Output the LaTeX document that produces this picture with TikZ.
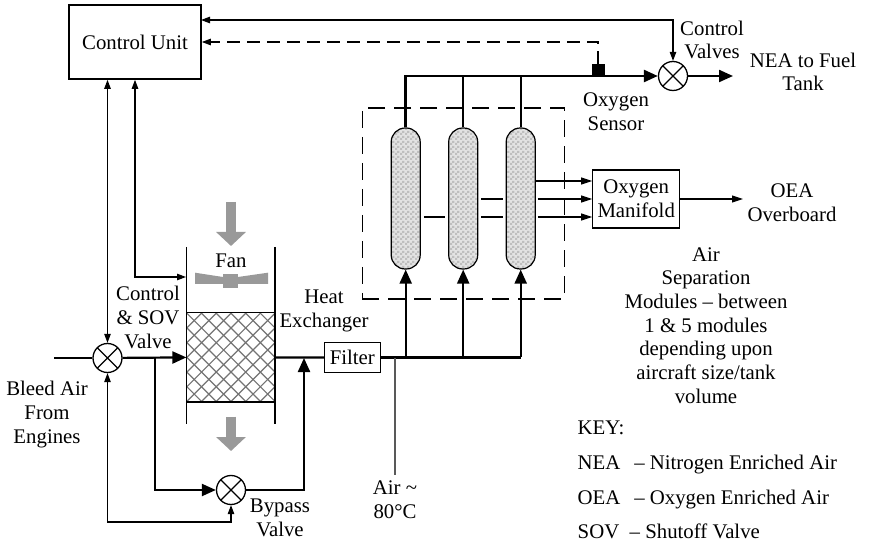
\documentclass[tikz,border=0pt]{standalone}
\usepackage{fontspec}
\setmainfont{Liberation Serif}
\usetikzlibrary{positioning,arrows.meta,calc,patterns}
\pgfdeclarepatternformonly{modcheck}{\pgfqpoint{0pt}{0pt}}{\pgfqpoint{5pt}{5pt}}{\pgfqpoint{5pt}{5pt}}{
  \pgfpathrectangle{\pgfqpoint{0pt}{0pt}}{\pgfqpoint{2.5pt}{2.5pt}}
  \pgfpathrectangle{\pgfqpoint{2.5pt}{2.5pt}}{\pgfqpoint{2.5pt}{2.5pt}}
  \pgfusepath{fill}}
\tikzset{
  lbl/.style={align=center,inner sep=0pt,font=\fontsize{20.8}{23.7}\selectfont},
  keyline/.style={anchor=base west,inner sep=0pt,font=\fontsize{20.8}{23.7}\selectfont},
  box/.style={draw,line width=1.1pt,inner sep=0pt,align=center,font=\fontsize{20.8}{23.7}\selectfont},
  valve/.style={circle,draw,line width=1.3pt,minimum size=29pt,inner sep=0pt,fill=white,
    path picture={\draw[line width=1.1pt] (path picture bounding box.north west)--(path picture bounding box.south east)
      (path picture bounding box.north east)--(path picture bounding box.south west);}},
  column/.style={draw,line width=1.2pt,rounded corners=14pt,minimum width=29pt,minimum height=141pt,inner sep=0pt,
    preaction={fill=gray!22},pattern=modcheck,pattern color=gray!50},
  pipe/.style={line width=2.2pt,-{Triangle[length=14pt,width=12pt]}},
  pipeline/.style={line width=2.2pt},
  signal/.style={line width=1.05pt,{Triangle[length=9pt,width=6.5pt]}-{Triangle[length=9pt,width=6.5pt]}},
  feed/.style={line width=1.05pt,-{Triangle[length=11pt,width=7pt]}},
  stub/.style={line width=1.05pt,shorten >=3pt,shorten <=3pt},
  hatch/.style={line width=1.2pt,black!55},
  fanflow/.style={line width=10pt,black!40,-{Triangle[length=14pt,width=29pt]}},
  wall/.style={line width=1.6pt},
}
\begin{document}
\begin{tikzpicture}[x=1pt,y=-1pt]
  \useasboundingbox (0,0) rectangle (873,545);
  % control side
  \node[box,line width=1.7pt,minimum width=132pt,minimum height=74pt] (cu) at (135,42) {Control Unit};
  \node[valve] (nv) at (673,76) {};
  \node[draw,fill=black,minimum size=12pt,inner sep=0pt] (sensor) at (598,70) {};
  \node[valve] (cv) at (107.5,358) {};
  \node[valve] (bv) at (231,490) {};
  % separation modules
  \node[column] (colA) at (405.7,198.5) {};
  \node[column] (colB) at (463.2,198.5) {};
  \node[column] (colC) at (520.7,198.5) {};
  \node[draw,line width=1.05pt,dash pattern=on 17pt off 9pt,minimum width=202pt,minimum height=191pt,inner sep=0pt] (asm) at (463.2,203.5) {};
  \node[box,minimum width=87pt,minimum height=58pt] (man) at (636.2,199) {Oxygen\\Manifold};
  \node[box,minimum width=55.5pt,minimum height=29.5pt] (filter) at (352.3,357.5) {Filter};
  % heat exchanger
  \node[minimum width=88pt,minimum height=88.7pt,inner sep=0pt] (hx) at (230.6,357.4) {};
  \begin{scope}
    \clip (hx.north west) rectangle (hx.south east);
    \foreach \i in {-7,...,6} {
      \draw[hatch] (186.6+14.7*\i,313) -- (275.3+14.7*\i,401.7);
      \draw[hatch] (275.3+14.7*\i,313) -- (186.6+14.7*\i,401.7);
    }
  \end{scope}
  \draw[line width=1.2pt] (hx.north west) rectangle (hx.south east);
  \draw[wall] (hx.west |- 0,247) -- (hx.west |- 0,424);
  \draw[wall] (hx.east |- 0,247) -- (hx.east |- 0,424);
  % fan
  \fill[black!40] (195,272.7) -- (223,277) -- (238,277) -- (268,272.7) -- (268,284) -- (195,284) -- cycle;
  \fill[black!40] (222.7,274) rectangle (238,288);
  \coordinate (fanA) at (231,202);
  \coordinate (fanB) at (231,246);
  \coordinate (fanC) at (231,416.7);
  \coordinate (fanD) at (231,451);
  \draw[fanflow] (fanA) -- (fanB);
  \draw[fanflow] (fanC) -- (fanD);
  % coordinates for free ends
  \coordinate (bleed) at (54,358);
  \coordinate (tee) at (155,358);
  \coordinate (rejoin) at (304,358);
  \coordinate (tap) at (395,358);
  \coordinate (airend) at (395,475);
  \coordinate (hxin) at (186,277);
  \coordinate (cutop) at (201,20);
  \coordinate (lp) at (170,522);
  \coordinate (nea) at (733,76);
  \coordinate (oea) at (743,199);
  % pipes
  \draw[pipeline] (bleed) -- (cv);
  \draw[pipe] (cv) -- (hx.west);
  \draw[pipe] (tee) |- (bv);
  \draw[pipe] (bv) -| (rejoin);
  \draw[pipeline] (hx.east) -- (filter.west);
  \draw[pipeline] (filter.east) -- (filter.east -| colC);
  \draw[pipe] (colA |- filter) -- (colA.south);
  \draw[pipe] (colB |- filter) -- (colB.south);
  \draw[pipe] (colC |- filter) -- (colC.south);
  \draw[pipe,line width=2.6pt] (colA.north) |- (nv);
  \draw[pipeline] (colB.north) -- (colB |- nv);
  \draw[pipeline] (colC.north) -- (colC |- nv);
  \draw[pipe] (nv) -- (nea);
  % signals
  \draw[signal] (cutop) -| (nv);
  \draw[line width=1.05pt,dash pattern=on 13pt off 7pt,-{Triangle[length=9pt,width=6.5pt]}] (sensor) |- (cu.east);
  \draw[signal] (cu.south -| cv) -- (cv);
  \draw[signal] (cu.south) |- (hxin);
  \draw[signal] (cv) |- (lp) -| (bv);
  \draw[line width=1.05pt,black!65] (tap) -- (airend);
  % manifold
  \draw[feed] (colC.east |- 0,181) -- (man.west |- 0,181);
  \draw[feed,shorten <=2pt] (colC.east |- 0,199) -- (man.west |- 0,199);
  \draw[feed,shorten <=2pt] (colC.east |- 0,217) -- (man.west |- 0,217);
  \draw[stub] (colA.east |- 0,217) -- (colB.west |- 0,217);
  \draw[stub] (colB.east |- 0,217) -- (colC.west |- 0,217);
  \draw[stub] (colB.east |- 0,199) -- (colC.west |- 0,199);
  \draw[feed] (man.east) -- (oea);
  % labels
  \node[lbl] (lblFan) at (231,261) {Fan};
  \node[lbl] (lblCtl) at (148,317.5) {Control\\\&~SOV\\Valve};
  \node[lbl] (lblHx) at (324,311) {Heat\\Exchanger};
  \node[lbl] (lblBleed) at (47,414.5) {Bleed Air\\From\\Engines};
  \node[lbl] (lblBy) at (280,518) {Bypass\\Valve};
  \node[lbl] (lblAir) at (395,499.5) {Air \textasciitilde\\80°C};
  \node[lbl] (lblCv) at (712,40) {Control\\Valves};
  \node[lbl] (lblNea) at (803,72) {NEA to Fuel\\Tank};
  \node[lbl] (lblO) at (616,112) {Oxygen\\Sensor};
  \node[lbl] (lblOea) at (792,203) {OEA\\Overboard};
  \node[lbl] (lblAsm) at (706,325.5) {Air\\Separation\\Modules – between\\1 \& 5 modules\\depending upon\\aircraft size/tank\\volume};
  \node[keyline] (keyH) at (577.5,434) {KEY:};
  \node[keyline] (keyA) at (577.5,469) {NEA~~\,– Nitrogen Enriched Air};
  \node[keyline] (keyB) at (577.5,504) {OEA~~\,– Oxygen Enriched Air};
  \node[keyline] (keyC) at (577.5,538) {SOV~~– Shutoff Valve};
\end{tikzpicture}
\end{document}
